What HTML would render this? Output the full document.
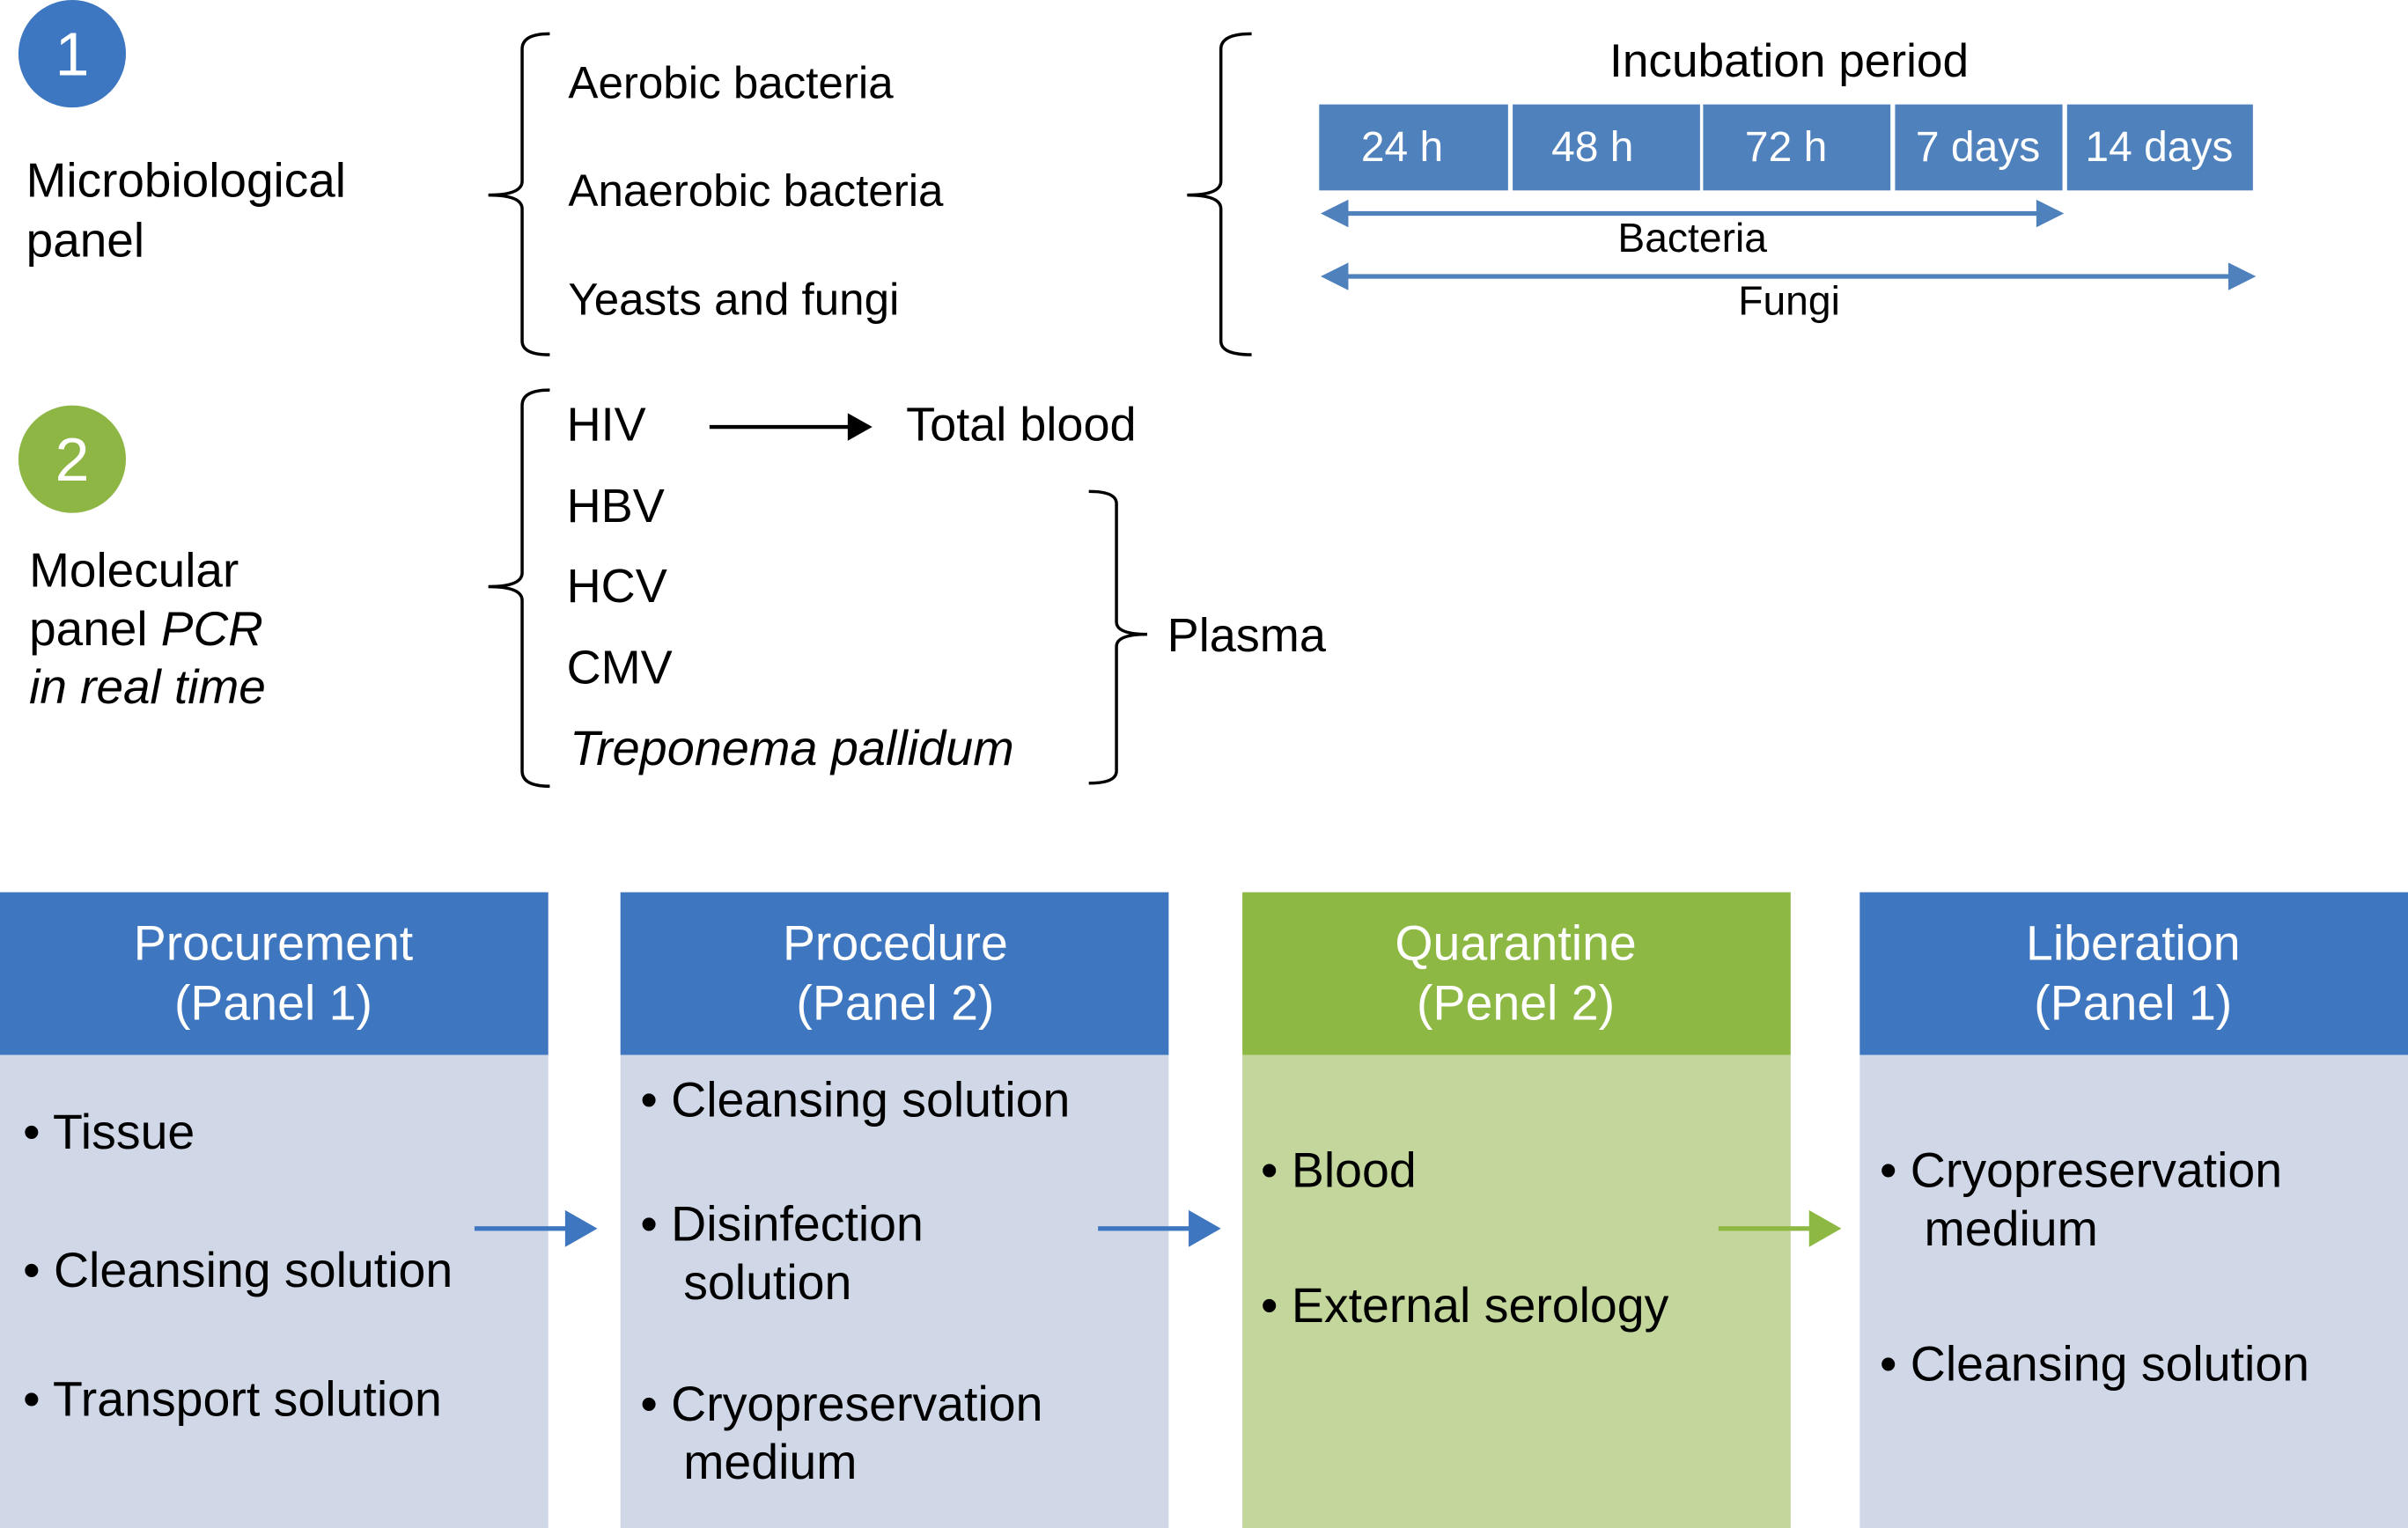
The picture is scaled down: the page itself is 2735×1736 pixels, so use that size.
<!DOCTYPE html>
<html><head><meta charset="utf-8"><style>
html,body{margin:0;padding:0;background:#fff;}
svg{display:block;}
text{font-family:"Liberation Sans",Arial,sans-serif;}
</style></head><body>
<svg width="2735" height="1736" viewBox="0 0 1568 995" preserveAspectRatio="none" xmlns="http://www.w3.org/2000/svg">
<rect width="1568" height="995" fill="#fff"/>
<circle cx="47" cy="35" r="35" fill="#3d76c1"/>
<text x="47" y="49" font-size="40" fill="#fff" text-anchor="middle">1</text>
<circle cx="47" cy="299" r="35" fill="#8db644"/>
<text x="47" y="313" font-size="40" fill="#fff" text-anchor="middle">2</text>
<g font-size="31.5" fill="#000">
<text x="17" y="128">Microbiological</text>
<text x="17" y="167">panel</text>
<text x="19" y="382">Molecular</text>
<text x="19" y="420">panel <tspan font-style="italic">PCR</tspan></text>
<text x="19" y="458" font-style="italic">in real time</text>
</g>
<g fill="none" stroke="#000" stroke-width="2">
<path d="M358,22 Q340,22 340,32 L340,118 Q340,127 318,127 Q340,127 340,136 L340,222 Q340,231 358,231"/>
<path d="M815,22 Q795,22 795,32 L795,118 Q795,127 773,127 Q795,127 795,136 L795,222 Q795,231 815,231"/>
<path d="M358,254 Q340,254 340,264 L340,373 Q340,382 318,382 Q340,382 340,391 L340,502 Q340,512 358,512"/>
<path d="M709,320 Q727,320 727,328 L727,405 Q727,413 747,413 Q727,413 727,421 L727,502 Q727,510 709,510"/>
</g>
<g font-size="29.3" fill="#000">
<text x="370" y="64">Aerobic bacteria</text>
<text x="370" y="134">Anaerobic bacteria</text>
<text x="370" y="205">Yeasts and fungi</text>
<text x="369" y="287" font-size="31">HIV</text>
<text x="369" y="340" font-size="31">HBV</text>
<text x="369" y="392" font-size="31">HCV</text>
<text x="369" y="445" font-size="31">CMV</text>
<text x="371" y="498" font-size="32" font-style="italic">Treponema pallidum</text>
<text x="590" y="287" font-size="31">Total blood</text>
<text x="760" y="424" font-size="31">Plasma</text>
<text x="1165" y="50" text-anchor="middle" font-size="30.5">Incubation period</text>
<text x="1102" y="164" text-anchor="middle" font-size="26.5">Bacteria</text>
<text x="1165" y="205" text-anchor="middle" font-size="26.5">Fungi</text>
</g>
<line x1="462" y1="278" x2="554" y2="278" stroke="#000" stroke-width="2.5"/>
<polygon points="552,269 568,278 552,287" fill="#000"/>
<g fill="#4f81bd">
<rect x="859" y="68" width="123" height="56"/>
<rect x="985" y="68" width="122" height="56"/>
<rect x="1109" y="68" width="122" height="56"/>
<rect x="1234" y="68" width="109" height="56"/>
<rect x="1346" y="68" width="121" height="56"/>
</g>
<g font-size="27.5" fill="#fff" text-anchor="middle">
<text x="913" y="105">24 h</text>
<text x="1037" y="105">48 h</text>
<text x="1163" y="105">72 h</text>
<text x="1288" y="105">7 days</text>
<text x="1406" y="105">14 days</text>
</g>
<g fill="#4f81bd">
<rect x="870" y="137.5" width="462" height="3"/>
<polygon points="860,139 878,130 878,148"/>
<polygon points="1344,139 1326,130 1326,148"/>
<rect x="870" y="178.5" width="588" height="3"/>
<polygon points="860,180 878,171 878,189"/>
<polygon points="1469,180 1451,171 1451,189"/>
</g>
<rect x="0" y="581" width="357" height="106" fill="#3e76c0"/>
<rect x="0" y="687" width="357" height="308" fill="#d0d8e8"/>
<rect x="404" y="581" width="357" height="106" fill="#3e76c0"/>
<rect x="404" y="687" width="357" height="308" fill="#d0d8e8"/>
<rect x="809" y="581" width="357" height="106" fill="#8db844"/>
<rect x="809" y="687" width="357" height="308" fill="#c3d69b"/>
<rect x="1211" y="581" width="357" height="106" fill="#3e76c0"/>
<rect x="1211" y="687" width="357" height="308" fill="#d0d8e8"/>
<g font-size="31.8" fill="#fff" text-anchor="middle">
<text x="178" y="625">Procurement</text><text x="178" y="664">(Panel 1)</text>
<text x="583" y="625">Procedure</text><text x="583" y="664">(Panel 2)</text>
<text x="987" y="625">Quarantine</text><text x="987" y="664">(Penel 2)</text>
<text x="1389" y="625">Liberation</text><text x="1389" y="664">(Panel 1)</text>
</g>
<g font-size="31.8" fill="#000">
<text x="15" y="748">• Tissue</text>
<text x="15" y="838">• Cleansing solution</text>
<text x="15" y="922">• Transport solution</text>
<text x="417" y="727">• Cleansing solution</text>
<text x="417" y="808">• Disinfection</text>
<text x="445" y="846">solution</text>
<text x="417" y="925">• Cryopreservation</text>
<text x="445" y="963">medium</text>
<text x="821" y="773">• Blood</text>
<text x="821" y="861">• External serology</text>
<text x="1224" y="773">• Cryopreservation</text>
<text x="1253" y="811">medium</text>
<text x="1224" y="899">• Cleansing solution</text>
</g>
<g>
<rect x="309" y="798.5" width="62" height="3" fill="#3e76c0"/>
<polygon points="368,788 389,800 368,812" fill="#3e76c0"/>
<rect x="715" y="798.5" width="62" height="3" fill="#3e76c0"/>
<polygon points="774,788 795,800 774,812" fill="#3e76c0"/>
<rect x="1119" y="798.5" width="62" height="3" fill="#8db844"/>
<polygon points="1178,788 1199,800 1178,812" fill="#8db844"/>
</g>
</svg>
</body></html>
